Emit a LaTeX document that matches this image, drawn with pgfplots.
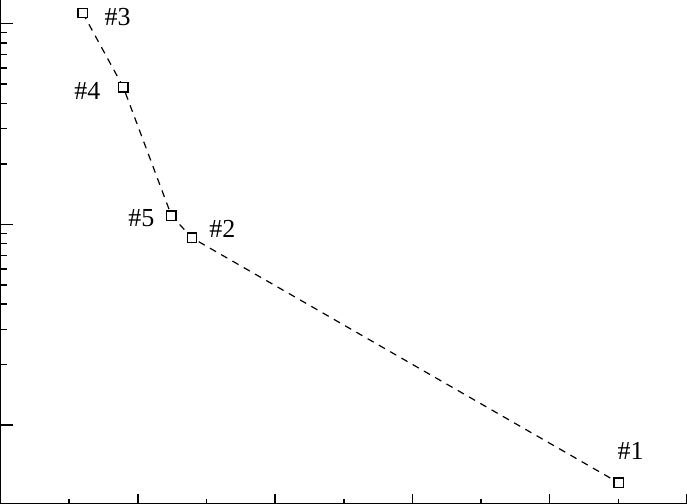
\documentclass[border=0pt]{standalone}
\usepackage{pgfplots}
\pgfplotsset{compat=1.18}
\usepackage{fontspec}
\setmainfont{Liberation Serif}
\begin{document}
\begin{tikzpicture}
\begin{axis}[
  name=ax,
  width=343.5pt, height=252pt, scale only axis,
  xmin=0, xmax=5,
  ymode=log, ymin=0.4077, ymax=130.6,
  axis x line=bottom, axis y line=left,
  axis line style={-, line width=0.7pt, black},
  xtick={0,1,2,3,4,5}, minor x tick num=1,
  ytick={1,10,100},
  xticklabels={}, yticklabels={},
  tick align=inside,
  major tick length=6pt, minor tick length=3.4pt,
  tick style={black, line width=0.75pt},
  x tick style={/pgfplots/major tick length=4.6pt,/pgfplots/minor tick length=2.2pt},
  clip=false,
]
\addplot[black, line width=0.6pt, dash pattern=on 3.5pt off 3pt,
  mark=square*, mark size=2.35pt,
  mark options={solid, fill=white, draw=black, line width=0.7pt}]
  coordinates {
  (0.598,112.6)
  (0.894,48.05)
  (1.244,11.05)
  (1.394,8.56)
  (4.502,0.517)
  };
\tikzset{lbl/.style={font=\fontsize{13}{15}\selectfont, inner sep=0pt}}
\node[lbl] at (axis cs:0.598,112.6) [xshift=17.5pt, yshift=-1.85pt] {\#3};
\node[lbl] at (axis cs:0.894,48.05) [xshift=-18pt, yshift=-1.8pt] {\#4};
\node[lbl] at (axis cs:1.244,11.05) [xshift=-15pt, yshift=-1.5pt] {\#5};
\node[lbl] at (axis cs:1.394,8.56) [xshift=15.25pt, yshift=4.5pt] {\#2};
\node[lbl] at (axis cs:4.502,0.517) [xshift=6pt, yshift=15.8pt] {\#1};
\end{axis}
\pgfresetboundingbox
\useasboundingbox ([xshift=-0.3pt]ax.south west) rectangle ([xshift=0pt,yshift=0pt]ax.north east);
\end{tikzpicture}
\end{document}
